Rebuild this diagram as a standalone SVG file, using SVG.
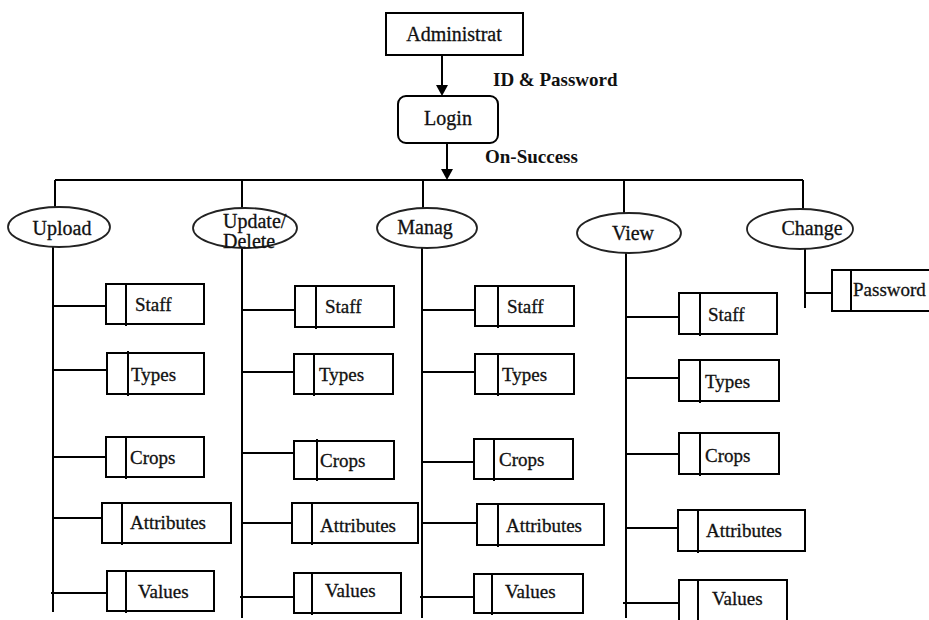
<svg xmlns="http://www.w3.org/2000/svg" width="929" height="620" viewBox="0 0 929 620">
<style>
  .bg{fill:#ffffff}
  .box{fill:#ffffff;stroke:#000;stroke-width:2}
  .div{stroke:#000;stroke-width:2;fill:none}
  .ell{fill:#ffffff;stroke:#222;stroke-width:1.8}
  .ln{stroke:#000;stroke-width:2;fill:none}
  .t{font-family:"Liberation Serif","Times New Roman",serif;font-size:19px;fill:#111;stroke:#111;stroke-width:0.3}
  .te{font-family:"Liberation Serif","Times New Roman",serif;font-size:20px;fill:#111;stroke:#111;stroke-width:0.3}
  .lb{font-family:"Liberation Serif","Times New Roman",serif;font-size:19px;font-weight:bold;fill:#111}
</style>
<rect class="bg" x="0" y="0" width="929" height="620"/>

<g id="connectors">
  <line class="ln" x1="442" y1="55" x2="442" y2="86"/>
  <path d="M436,85 L448,85 L442,96 Z" fill="#000"/>
  <line class="ln" x1="447" y1="143" x2="447" y2="170"/>
  <path d="M441,169 L453,169 L447,180 Z" fill="#000"/>
  <line class="ln" x1="55" y1="180" x2="803" y2="180"/>
  <line class="ln" x1="55" y1="180" x2="55" y2="207"/>
  <line class="ln" x1="242" y1="180" x2="242" y2="208"/>
  <line class="ln" x1="423" y1="180" x2="423" y2="208"/>
  <line class="ln" x1="624" y1="180" x2="624" y2="213"/>
  <line class="ln" x1="803" y1="180" x2="803" y2="209"/>
  <line class="ln" x1="53" y1="247" x2="53" y2="612"/>
  <line class="ln" x1="53" y1="306" x2="106" y2="306"/>
  <line class="ln" x1="53" y1="370" x2="107" y2="370"/>
  <line class="ln" x1="53" y1="457" x2="106" y2="457"/>
  <line class="ln" x1="53" y1="518" x2="102" y2="518"/>
  <line class="ln" x1="51" y1="593" x2="107" y2="593"/>
  <line class="ln" x1="242" y1="248" x2="242" y2="618"/>
  <line class="ln" x1="242" y1="310" x2="295" y2="310"/>
  <line class="ln" x1="242" y1="372" x2="294" y2="372"/>
  <line class="ln" x1="242" y1="453" x2="294" y2="453"/>
  <line class="ln" x1="242" y1="523" x2="292" y2="523"/>
  <line class="ln" x1="240" y1="597" x2="294" y2="597"/>
  <line class="ln" x1="422" y1="248" x2="422" y2="618"/>
  <line class="ln" x1="422" y1="310" x2="475" y2="310"/>
  <line class="ln" x1="422" y1="372" x2="475" y2="372"/>
  <line class="ln" x1="422" y1="462" x2="474" y2="462"/>
  <line class="ln" x1="422" y1="523" x2="477" y2="523"/>
  <line class="ln" x1="420" y1="597" x2="474" y2="597"/>
  <line class="ln" x1="626" y1="253" x2="626" y2="618"/>
  <line class="ln" x1="626" y1="317" x2="679" y2="317"/>
  <line class="ln" x1="626" y1="378" x2="679" y2="378"/>
  <line class="ln" x1="626" y1="454" x2="679" y2="454"/>
  <line class="ln" x1="626" y1="528" x2="678" y2="528"/>
  <line class="ln" x1="623" y1="603" x2="679" y2="603"/>
  <line class="ln" x1="805" y1="249" x2="805" y2="308" stroke="#444"/>
  <line class="ln" x1="805" y1="293" x2="832" y2="293" stroke="#444"/>
</g>

<g id="administrat">
  <rect class="box" x="386" y="13" width="137" height="42"/>
  <text class="te" x="454" y="41" text-anchor="middle">Administrat</text>
</g>
<g id="label-id">
  <text class="lb" x="493" y="86">ID &amp; Password</text>
</g>
<g id="login">
  <rect class="box" x="398" y="96" width="100" height="47" rx="8" ry="8"/>
  <text class="te" x="448" y="125" text-anchor="middle">Login</text>
</g>
<g id="label-success">
  <text class="lb" x="485" y="163">On-Success</text>
</g>

<g id="upload">
  <ellipse class="ell" cx="59" cy="227" rx="51" ry="20"/>
  <text class="te" x="62" y="235" text-anchor="middle">Upload</text>
</g>
<g id="update">
  <ellipse class="ell" cx="245" cy="228" rx="52" ry="20"/>
  <text class="te" x="223" y="228">Update/</text>
  <text class="te" x="223" y="248">Delete</text>
</g>
<g id="manag">
  <ellipse class="ell" cx="427" cy="228" rx="50" ry="20"/>
  <text class="te" x="425" y="234" text-anchor="middle">Manag</text>
</g>
<g id="view">
  <ellipse class="ell" cx="629" cy="233" rx="52" ry="20"/>
  <text class="te" x="633" y="240" text-anchor="middle">View</text>
</g>
<g id="change">
  <ellipse class="ell" cx="800" cy="229" rx="53" ry="20"/>
  <text class="te" x="812" y="235" text-anchor="middle">Change</text>
</g>
<g id="password">
  <rect class="box" x="832" y="270" width="100" height="41"/>
  <line class="div" x1="851" y1="270" x2="851" y2="311"/>
  <text class="t" x="853" y="296">Password</text>
</g>

<g id="upload-staff">
  <rect class="box" x="106" y="284" width="98" height="40"/>
  <line class="div" x1="126" y1="284" x2="126" y2="326"/>
  <text class="t" x="135" y="311">Staff</text>
</g>
<g id="upload-types">
  <rect class="box" x="107" y="353" width="97" height="41"/>
  <line class="div" x1="128" y1="351" x2="128" y2="396"/>
  <text class="t" x="131" y="381">Types</text>
</g>
<g id="upload-crops">
  <rect class="box" x="106" y="437" width="98" height="40"/>
  <line class="div" x1="126" y1="437" x2="126" y2="479"/>
  <text class="t" x="130" y="464">Crops</text>
</g>
<g id="upload-attributes">
  <rect class="box" x="102" y="503" width="129" height="40"/>
  <line class="div" x1="122" y1="503" x2="122" y2="545"/>
  <text class="t" x="130" y="529">Attributes</text>
</g>
<g id="upload-values">
  <rect class="box" x="107" y="571" width="107" height="40"/>
  <line class="div" x1="126" y1="571" x2="126" y2="613"/>
  <text class="t" x="138" y="598">Values</text>
</g>

<g id="update-staff">
  <rect class="box" x="295" y="286" width="99" height="41"/>
  <line class="div" x1="316" y1="286" x2="316" y2="329"/>
  <text class="t" x="325" y="313">Staff</text>
</g>
<g id="update-types">
  <rect class="box" x="294" y="354" width="99" height="40"/>
  <line class="div" x1="314" y1="354" x2="314" y2="396"/>
  <text class="t" x="319" y="381">Types</text>
</g>
<g id="update-crops">
  <rect class="box" x="294" y="441" width="100" height="38"/>
  <line class="div" x1="317" y1="439" x2="317" y2="481"/>
  <text class="t" x="320" y="467">Crops</text>
</g>
<g id="update-attributes">
  <rect class="box" x="292" y="503" width="126" height="40"/>
  <line class="div" x1="312" y1="503" x2="312" y2="545"/>
  <text class="t" x="320" y="532">Attributes</text>
</g>
<g id="update-values">
  <rect class="box" x="294" y="573" width="107" height="40"/>
  <line class="div" x1="312" y1="573" x2="312" y2="615"/>
  <text class="t" x="325" y="597">Values</text>
</g>

<g id="manag-staff">
  <rect class="box" x="475" y="286" width="99" height="40"/>
  <line class="div" x1="498" y1="286" x2="498" y2="328"/>
  <text class="t" x="507" y="313">Staff</text>
</g>
<g id="manag-types">
  <rect class="box" x="475" y="354" width="99" height="40"/>
  <line class="div" x1="498" y1="354" x2="498" y2="396"/>
  <text class="t" x="502" y="381">Types</text>
</g>
<g id="manag-crops">
  <rect class="box" x="474" y="439" width="99" height="40"/>
  <line class="div" x1="494" y1="439" x2="494" y2="481"/>
  <text class="t" x="499" y="466">Crops</text>
</g>
<g id="manag-attributes">
  <rect class="box" x="477" y="504" width="127" height="41"/>
  <line class="div" x1="498" y1="504" x2="498" y2="547"/>
  <text class="t" x="506" y="532">Attributes</text>
</g>
<g id="manag-values">
  <rect class="box" x="474" y="574" width="109" height="39"/>
  <line class="div" x1="492" y1="574" x2="492" y2="615"/>
  <text class="t" x="505" y="598">Values</text>
</g>

<g id="view-staff">
  <rect class="box" x="679" y="293" width="98" height="41"/>
  <line class="div" x1="700" y1="293" x2="700" y2="336"/>
  <text class="t" x="708" y="321">Staff</text>
</g>
<g id="view-types">
  <rect class="box" x="679" y="360" width="100" height="41"/>
  <line class="div" x1="700" y1="360" x2="700" y2="403"/>
  <text class="t" x="705" y="388">Types</text>
</g>
<g id="view-crops">
  <rect class="box" x="679" y="433" width="100" height="41"/>
  <line class="div" x1="700" y1="433" x2="700" y2="476"/>
  <text class="t" x="705" y="462">Crops</text>
</g>
<g id="view-attributes">
  <rect class="box" x="678" y="510" width="127" height="41"/>
  <line class="div" x1="698" y1="510" x2="698" y2="553"/>
  <text class="t" x="706" y="537">Attributes</text>
</g>
<g id="view-values">
  <rect class="box" x="679" y="580" width="108" height="44"/>
  <line class="div" x1="698" y1="580" x2="698" y2="622"/>
  <text class="t" x="712" y="605">Values</text>
</g>
</svg>
